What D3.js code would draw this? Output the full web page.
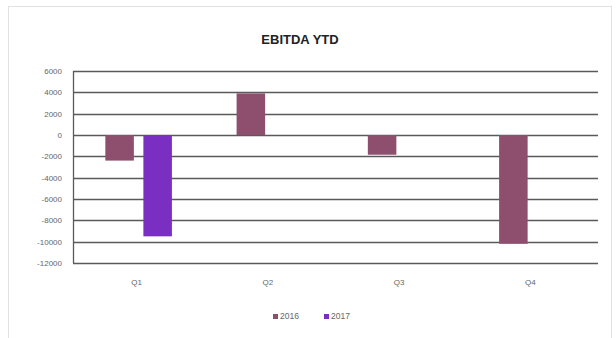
<!DOCTYPE html>
<html>
<head>
<meta charset="utf-8">
<script src="https://cdn.jsdelivr.net/npm/d3@7"></script>
<style>
  body { margin: 0; background: #fff; }
  svg { display: block; font-family: 'Liberation Sans', Arial, sans-serif; }
</style>
</head>
<body>
<div id="chart"></div>
<script>
// chart data
const quarters = ['Q1', 'Q2', 'Q3', 'Q4'];
const seriesNames = ['2016', '2017'];
const values2016 = [-2400, 3900, -1850, -10200];
const values2017 = [-9500, null, null, null];
const yTicks = [6000, 4000, 2000, 0, -2000, -4000, -6000, -8000, -10000, -12000];
const colors = ['#8e4f6e', '#7b2fc2'];

const width = 616, height = 338;
const margin = { top: 71, right: 18, bottom: 75, left: 73 };

const svg = d3.select('#chart')
  .append('svg')
  .attr('width', width)
  .attr('height', height);

// outer chart border
svg.append('rect')
  .attr('x', 8.5).attr('y', 6.5)
  .attr('width', 603).attr('height', 340)
  .attr('fill', '#fff')
  .attr('stroke', '#e2e2e2');

// title
svg.append('text')
  .attr('x', 300).attr('y', 44)
  .attr('text-anchor', 'middle')
  .attr('font-size', 13)
  .attr('font-weight', 'bold')
  .attr('fill', '#222')
  .text('EBITDA YTD');

const x = d3.scaleBand()
  .domain(quarters)
  .range([margin.left, width - margin.right]);

const xInner = d3.scaleBand()
  .domain(seriesNames)
  .range([0, x.bandwidth()])
  .paddingInner(0.25)
  .paddingOuter(0.85);

const y = d3.scaleLinear()
  .domain([-12000, 6000])
  .range([height - margin.bottom, margin.top]);

// gridlines
svg.append('g')
  .selectAll('line')
  .data(yTicks)
  .enter()
  .append('line')
  .attr('x1', margin.left)
  .attr('x2', width - margin.right)
  .attr('y1', d => Math.round(y(d)) + 0.5)
  .attr('y2', d => Math.round(y(d)) + 0.5)
  .attr('stroke', '#5a5a5a')
  .attr('stroke-width', 1.3);

// left axis line
svg.append('line')
  .attr('x1', margin.left + 0.5).attr('x2', margin.left + 0.5)
  .attr('y1', y(6000)).attr('y2', y(-12000))
  .attr('stroke', '#5a5a5a')
  .attr('stroke-width', 1.3);

// y tick labels
svg.append('g')
  .selectAll('text')
  .data(yTicks)
  .enter()
  .append('text')
  .attr('x', 62)
  .attr('y', d => y(d) + 3)
  .attr('text-anchor', 'end')
  .attr('font-size', 8)
  .attr('fill', '#666')
  .text(d => d < 0 ? '-' + Math.abs(d) : d);

// bars
const series = [values2016, values2017];
series.forEach((vals, si) => {
  svg.append('g')
    .selectAll('rect')
    .data(quarters.map((q, i) => ({ q, v: vals[i] })).filter(d => d.v !== null))
    .enter()
    .append('rect')
    .attr('x', d => x(d.q) + xInner(seriesNames[si]))
    .attr('width', xInner.bandwidth())
    .attr('y', d => y(Math.max(0, d.v)))
    .attr('height', d => Math.abs(y(d.v) - y(0)))
    .attr('fill', colors[si]);
});

// x labels
svg.append('g')
  .selectAll('text')
  .data(quarters)
  .enter()
  .append('text')
  .attr('x', d => x(d) + x.bandwidth() / 2 - 2)
  .attr('y', 285)
  .attr('text-anchor', 'middle')
  .attr('font-size', 8)
  .attr('fill', '#666')
  .text(d => d);

// legend
const legend = svg.append('g').attr('transform', 'translate(273,319)');
seriesNames.forEach((name, i) => {
  const g = legend.append('g').attr('transform', `translate(${i * 51},0)`);
  g.append('rect')
    .attr('x', 0).attr('y', -5)
    .attr('width', 5).attr('height', 5)
    .attr('fill', colors[i]);
  g.append('text')
    .attr('x', 7).attr('y', 0)
    .attr('font-size', 8.5)
    .attr('fill', '#666')
    .text(name);
});
</script>
</body>
</html>
